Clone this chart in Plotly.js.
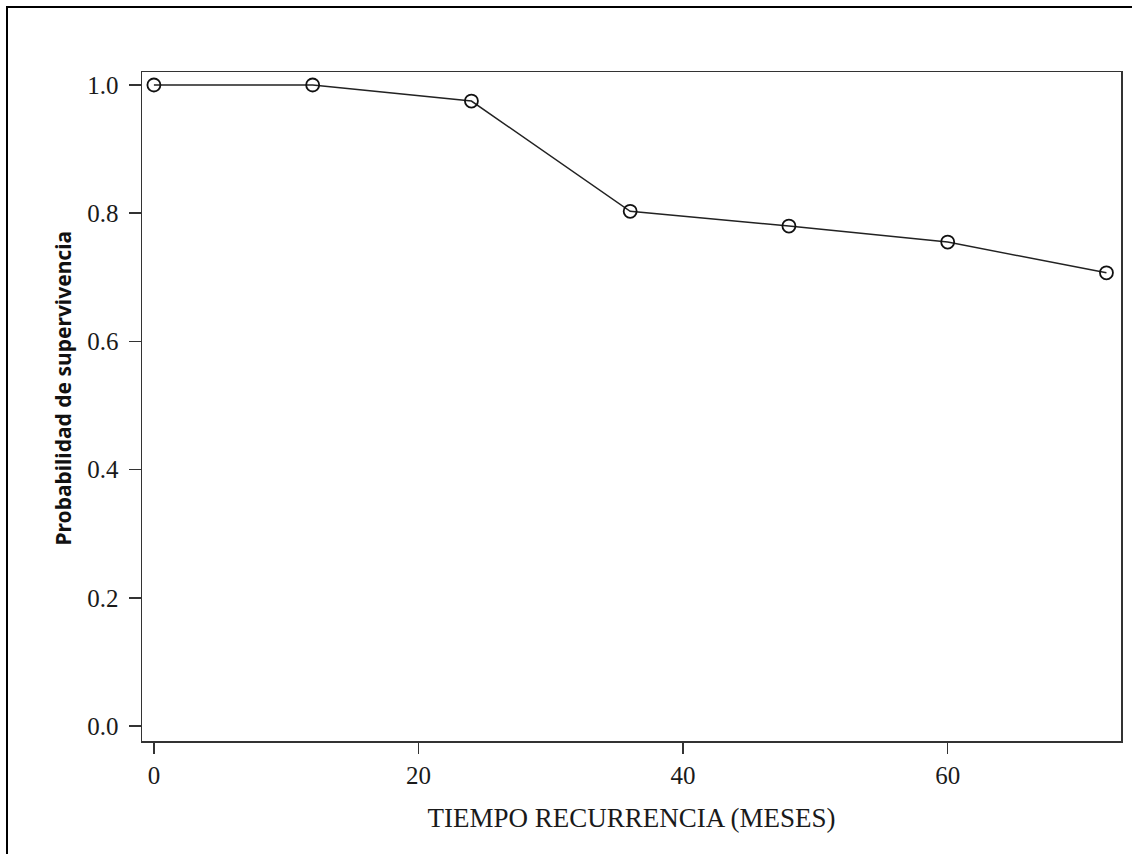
<!DOCTYPE html>
<html>
<head>
<meta charset="utf-8">
<script src="https://cdn.plot.ly/plotly-3.0.1.min.js"></script>
<style>
html,body{margin:0;padding:0;overflow:hidden;background:#fff;}
#chart{width:1132px;height:854px;}
#frame{position:absolute;left:6px;top:6px;width:1200px;height:900px;border-top:2px solid #000;border-left:2px solid #000;pointer-events:none;}
</style>
</head>
<body>
<div id="chart"></div>
<div id="frame"></div>
<script>
const months = [0, 12, 24, 36, 48, 60, 72];
const survival = [1.0, 1.0, 0.975, 0.803, 0.780, 0.755, 0.707];
const yTicks = [0.0, 0.2, 0.4, 0.6, 0.8, 1.0];
const yTickLabels = ['0.0', '0.2', '0.4', '0.6', '0.8', '1.0'];
const xTicks = [0, 20, 40, 60];
const xTitle = 'TIEMPO RECURRENCIA (MESES)';
const yTitle = 'Probabilidad de supervivencia';

const trace = {
  x: months, y: survival, type: 'scatter', mode: 'lines+markers',
  line: {color: '#222', width: 1.5},
  marker: {symbol: 'circle-open', size: 13, color: '#111', line: {width: 1.8, color: '#111'}},
  showlegend: false, hoverinfo: 'none'
};

const layout = {
  width: 1132, height: 854,
  margin: {l: 142, r: 11, t: 72, b: 113},
  paper_bgcolor: '#fff', plot_bgcolor: '#fff',
  xaxis: {
    range: [-0.9, 73.1], tickvals: xTicks, ticks: 'outside', ticklen: 11, tickwidth: 1.5, tickcolor: '#333',
    showline: true, linecolor: '#333', linewidth: 1.5, mirror: true, showgrid: false, zeroline: false,
    tickfont: {family: 'Liberation Serif', size: 25, color: '#1a1a1a'},
    title: {text: xTitle, font: {family: 'Liberation Serif', size: 27, color: '#1a1a1a'}, standoff: 20}
  },
  yaxis: {
    range: [-0.0234, 1.0203], tickvals: yTicks, ticktext: yTickLabels, ticks: 'outside', ticklen: 12, tickwidth: 1.5, tickcolor: '#333',
    showline: true, linecolor: '#333', linewidth: 1.5, mirror: true, showgrid: false, zeroline: false,
    ticklabelstandoff: 5,
    tickfont: {family: 'Liberation Serif', size: 25, color: '#1a1a1a'}
  },
  annotations: [{
    text: '<b>' + yTitle + '</b>', textangle: -90, showarrow: false,
    xref: 'paper', yref: 'paper', x: -0.0807, y: 0.527, xanchor: 'center', yanchor: 'middle',
    font: {family: 'Noto Sans', size: 21, color: '#111'}
  }]
};

Plotly.newPlot('chart', [trace], layout, {staticPlot: true, displayModeBar: false});
</script>
</body>
</html>
